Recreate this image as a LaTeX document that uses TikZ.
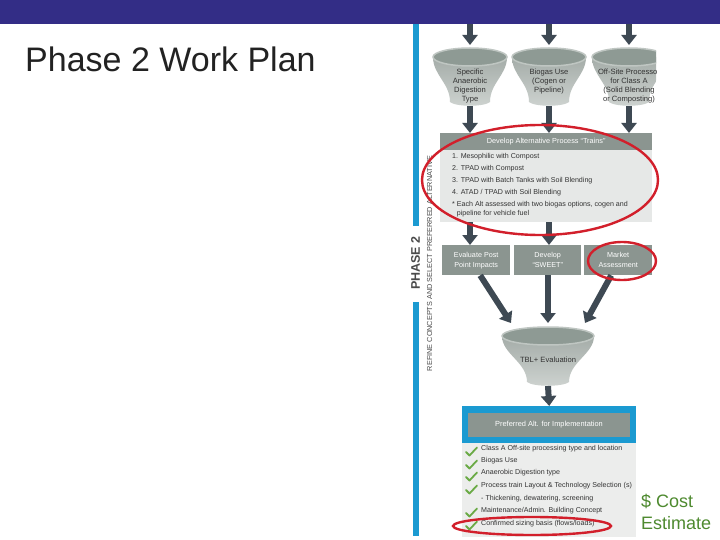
\documentclass[tikz,border=0pt]{standalone}
\usepackage{fontspec}
\setmainfont{Liberation Sans}
\usetikzlibrary{arrows.meta,calc}
\definecolor{topblue}{HTML}{332D86}
\definecolor{frameblue}{HTML}{1B9AD1}
\definecolor{hdrgray}{HTML}{8B9590}
\definecolor{bodygray}{HTML}{E6E8E7}
\definecolor{lightbody}{HTML}{ECEDEC}
\definecolor{arrowc}{HTML}{3E4953}
\definecolor{txt}{HTML}{333333}
\definecolor{fbtop}{HTML}{A4ACA8}
\definecolor{fbbot}{HTML}{CED3D0}
\definecolor{ftop}{HTML}{8E9A94}
\definecolor{frim}{HTML}{BFC6C2}
\definecolor{redc}{HTML}{D21F2B}
\definecolor{checkc}{HTML}{6AAA45}
\definecolor{costgreen}{HTML}{4E8A2F}
\definecolor{titlec}{HTML}{222222}
\definecolor{sidegray}{HTML}{4A4A4A}
\newcommand{\myfunnel}[5]{%
  \shade[top color=fbtop, bottom color=fbbot]
    ({#1-#3},#2) .. controls ({#1-#3},{#2+18}) and ({#1-#5},{#2+26}) .. ({#1-#5},{#4-4})
    .. controls ({#1-#5+6},{#4+1}) and ({#1+#5-6},{#4+1}) .. ({#1+#5},{#4-4})
    .. controls ({#1+#5},{#2+26}) and ({#1+#3},{#2+18}) .. ({#1+#3},#2) -- cycle;
  \filldraw[fill=ftop, draw=frim, line width=1.5pt] (#1,#2) ellipse [x radius=#3, y radius=9];
}
\begin{document}
\begin{tikzpicture}[x=1pt,y=-1pt,
  bigarrow/.style={draw=arrowc, line width=6pt, -{Triangle[width=15pt,length=10pt]}},
  small/.style={font=\fontsize{7.1}{9}\selectfont},
  ftext/.style={font=\fontsize{7.6}{9}\selectfont, text=txt, align=center, inner sep=0pt},
  gbox/.style={fill=hdrgray, text=white, font=\fontsize{7.2}{10}\selectfont, align=center, inner sep=0pt, anchor=north west},
  item/.style={small, text=txt, anchor=west, inner sep=0pt},
  redell/.style={draw=redc, line width=2.4pt},
  chk/.style={draw=checkc, line width=1.8pt, line cap=round, line join=round}]
\useasboundingbox (0,0) rectangle (720,540);
\fill[white] (0,0) rectangle (720,540);
% top bar
\node[fill=topblue, minimum width=720pt, minimum height=24pt, inner sep=0pt, anchor=north west] (bar) at (0,0) {};
% title
\node[anchor=base west, font=\fontsize{34}{34}\selectfont, text=titlec, inner sep=0pt] (title) at (25,72) {Phase 2 Work Plan};
% side blue bar
\fill[frameblue] (413,24) rectangle (419,226);
\fill[frameblue] (413,302) rectangle (419,536);
\node[rotate=90, font=\bfseries\fontsize{12.5}{12.5}\selectfont, text=sidegray, inner sep=0pt] (phase) at (415.5,263) {PHASE 2};
\node[rotate=90, font=\fontsize{7.3}{8}\selectfont, text=sidegray, inner sep=0pt] (refine) at (429.5,263.5) {REFINE CONCEPTS AND SELECT PREFERRED ALTERNATIVE};
% top funnels
\coordinate (f1top) at (470,45);
\coordinate (f2top) at (549,45);
\coordinate (f3top) at (629,45);
\coordinate (f1bot) at (470,106);
\coordinate (f2bot) at (549,106);
\coordinate (f3bot) at (629,106);
\myfunnel{470}{57}{37}{106}{20}
\myfunnel{549}{57}{37}{106}{20}
\begin{scope}
\clip (585,30) rectangle (656,120);
\myfunnel{629}{57}{37}{106}{20}
\node[ftext] (fu3) at (629,86.5) {Off-Site Processor\\for Class A\\(Solid Blending\\or Composting)};
\end{scope}
\node[ftext] (fu1) at (470,86.5) {Specific\\Anaerobic\\Digestion\\Type};
\node[ftext] (fu2) at (549,82) {Biogas Use\\(Cogen or\\Pipeline)};
\draw[bigarrow] (bar.south -| f1top) -- (f1top);
\draw[bigarrow] (bar.south -| f2top) -- (f2top);
\draw[bigarrow] (bar.south -| f3top) -- (f3top);
% develop box
\node[fill=hdrgray, text=white, font=\fontsize{7.3}{9}\selectfont, minimum width=212pt, minimum height=17pt, inner sep=0pt, anchor=north west] (devh) at (440,133) {Develop Alternative Process ``Trains''};
\node[fill=bodygray, minimum width=212pt, minimum height=72pt, inner sep=0pt, anchor=north west] (devb) at (440,150) {};
\node[small, text=txt, align=left, anchor=north west, inner sep=0pt] (devt) at (452,153)
 {1. Mesophilic with Compost\\[3pt]
  2. TPAD with Compost\\[3pt]
  3. TPAD with Batch Tanks with Soil Blending\\[3pt]
  4. ATAD / TPAD with Soil Blending\\[3pt]
  * Each Alt assessed with two biogas options, cogen and\\
  \hphantom{* }pipeline for vehicle fuel};
\draw[bigarrow] (f1bot) -- (devh.north -| f1bot);
\draw[bigarrow] (f2bot) -- (devh.north -| f2bot);
\draw[bigarrow] (f3bot) -- (devh.north -| f3bot);
% three boxes
\node[gbox, minimum width=68pt, minimum height=30pt] (b1) at (442,245) {Evaluate Post\\Point Impacts};
\node[gbox, minimum width=67pt, minimum height=30pt] (b2) at (514,245) {Develop\\``SWEET''};
\node[gbox, minimum width=68pt, minimum height=30pt] (b3) at (584,245) {Market\\Assessment};
\draw[bigarrow] (devb.south -| f1bot) -- (b1.north -| f1bot);
\draw[bigarrow] (devb.south -| f2bot) -- (b2.north -| f2bot);
% TBL funnel
\coordinate (tblL) at (511,323);
\coordinate (tblC) at (548,323);
\coordinate (tblR) at (585,323);
\coordinate (tblbot) at (548,386);
\myfunnel{548}{336}{46}{386}{21}
\node[ftext] (tbl) at (548,360) {TBL+ Evaluation};
\draw[bigarrow] ([xshift=4pt]b1.south) -- (tblL);
\draw[bigarrow] (b2.south -| tblC) -- (tblC);
\draw[bigarrow] ([xshift=-7pt]b3.south) -- (tblR);
% preferred box
\node[fill=frameblue, minimum width=174pt, minimum height=37pt, inner sep=0pt, anchor=north west] (pref) at (462,406) {};
\node[fill=hdrgray, text=white, font=\fontsize{7.4}{9}\selectfont, minimum width=162pt, minimum height=24pt, inner sep=0pt] (prefh) at (549,425) {Preferred Alt. for Implementation};
\node[fill=lightbody, minimum width=174pt, minimum height=94pt, inner sep=0pt, anchor=north west] (prefb) at (462,443) {};
\draw[bigarrow] (tblbot) -- (pref.north);
\node[item] (i1) at (481,449) {Class A Off-site processing type and location};
\node[item] (i2) at (481,461) {Biogas Use};
\node[item] (i3) at (481,473) {Anaerobic Digestion type};
\node[item] (i4) at (481,486) {Process train Layout \& Technology Selection (s)};
\node[item] (i5) at (481,499) {- Thickening, dewatering, screening};
\node[item] (i6) at (481,511) {Maintenance/Admin. Building Concept};
\node[item] (i7) at (481,524) {Confirmed sizing basis (flows/loads)};
\foreach \yy in {452,465,477,490,513,526}{
  \draw[chk] (466,\yy) -- (469.5,{\yy+3.5}) -- (477,{\yy-4.5});
}
% cost
\node[anchor=base west, font=\fontsize{18}{18}\selectfont, text=costgreen, inner sep=0pt] (cost1) at (641,507) {\$ Cost};
\node[anchor=base west, font=\fontsize{18}{18}\selectfont, text=costgreen, inner sep=0pt] (cost2) at (641,529) {Estimate};
% red ellipses
\draw[redell] (540,180) ellipse [x radius=118, y radius=55];
\draw[redell] (622,261) ellipse [x radius=34, y radius=19];
\draw[redell] (532,526) ellipse [x radius=79, y radius=9];
\end{tikzpicture}
\end{document}
